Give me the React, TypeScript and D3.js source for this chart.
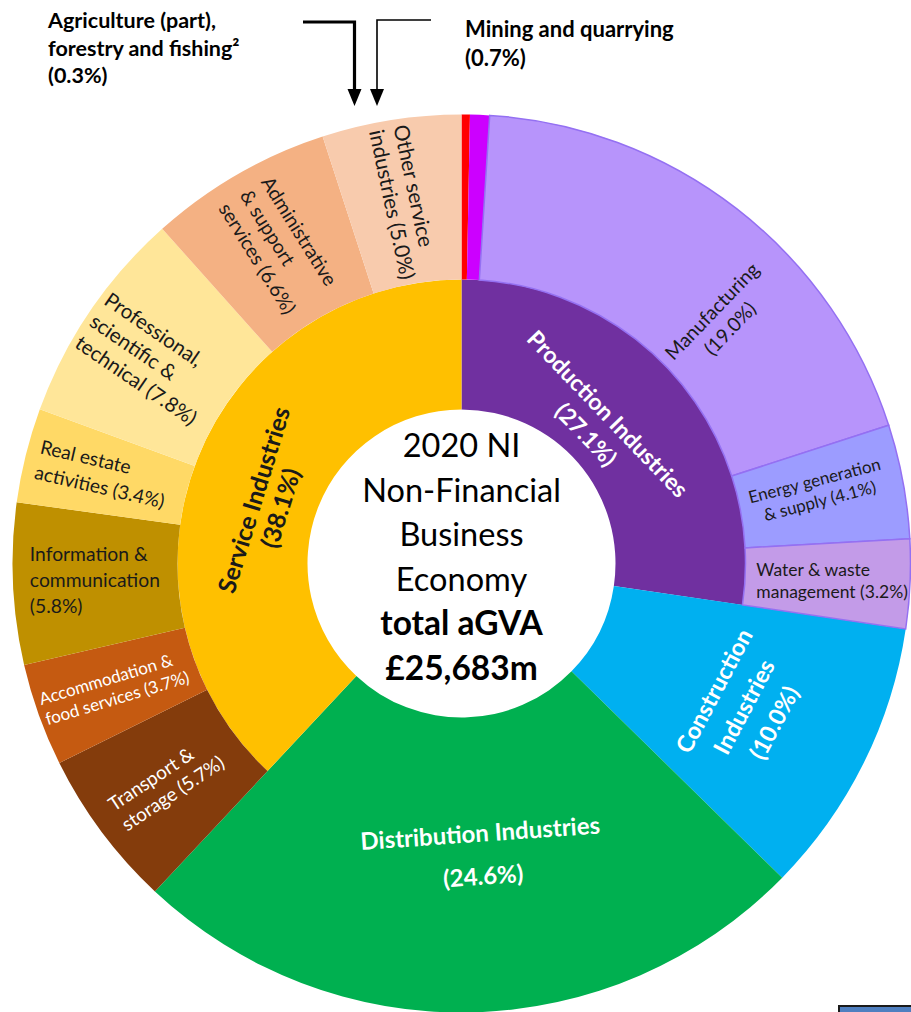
import React, { useEffect, useRef } from 'react';
import * as d3 from 'd3';

// inner ring: broad industry groups
const industries = ['Production Industries', 'Construction Industries', 'Distribution Industries', 'Service Industries'];
const industryShares = [27.1, 10.0, 24.6, 38.1];
const industryColors = ['#7030a0', '#00b0f0', '#00b050', '#ffc000'];

// outer ring: sectors inside each group
const sectors = [
  'Agriculture (part), forestry and fishing',
  'Mining and quarrying',
  'Manufacturing',
  'Energy generation & supply',
  'Water & waste management',
  'Transport & storage',
  'Accommodation & food services',
  'Information & communication',
  'Real estate activities',
  'Professional, scientific & technical',
  'Administrative & support services',
  'Other service industries',
];
const sectorParents = [
  'Production Industries', 'Production Industries', 'Production Industries', 'Production Industries', 'Production Industries',
  'Service Industries', 'Service Industries', 'Service Industries', 'Service Industries', 'Service Industries',
  'Service Industries', 'Service Industries',
];
const sectorShares = [0.3, 0.7, 19.0, 4.1, 3.2, 5.7, 3.7, 5.8, 3.4, 7.8, 6.6, 5.0];
const sectorColors = [
  '#ff0000', '#cc00ff', '#b794fb', '#9c9cff', '#c39be8',
  '#843c0c', '#c55a11', '#bf9000', '#ffd966', '#ffe699', '#f4b183', '#f8cbad',
];

// '#' gets replaced by the share
const labelLines: Record<string, string[]> = {
  'Production Industries': ['Production Industries', '(#)'],
  'Construction Industries': ['Construction', 'Industries', '(#)'],
  'Distribution Industries': ['Distribution Industries', '(#)'],
  'Service Industries': ['Service Industries', '(#)'],
  'Manufacturing': ['Manufacturing', '(#)'],
  'Energy generation & supply': ['Energy generation', '& supply (#)'],
  'Water & waste management': ['Water & waste', 'management (#)'],
  'Transport & storage': ['Transport &', 'storage (#)'],
  'Accommodation & food services': ['Accommodation &', 'food services (#)'],
  'Information & communication': ['Information &', 'communication', '(#)'],
  'Real estate activities': ['Real estate', 'activities (#)'],
  'Professional, scientific & technical': ['Professional,', 'scientific &', 'technical (#)'],
  'Administrative & support services': ['Administrative', '& support', 'services (#)'],
  'Other service industries': ['Other service', 'industries (#)'],
};

const centerLines = ['2020 NI', 'Non-Financial', 'Business', 'Economy'];
const centerBoldLines = ['total aGVA', '£25,683m'];

const agriNote = ['Agriculture (part),', 'forestry and fishing²', '(0.3%)'];
const miningNote = ['Mining and quarrying', '(0.7%)'];

type Orient = 'in' | 'out' | 'tan' | 'flat';
interface LabelStyle {
  r: number;
  dTheta?: number;
  dRot?: number;
  orient: Orient;
  size: number;
  weight?: number;
  color?: string;
  align?: 'start' | 'middle';
  lineH: number;
}

const labelStyle: Record<string, LabelStyle> = {
  'Production Industries': { r: 194, dTheta: -5, dRot: 2, orient: 'tan', size: 23, weight: 700, color: '#fff', lineH: 30 },
  'Construction Industries': { r: 317, dTheta: 0.5, dRot: 1, orient: 'tan', size: 23.5, weight: 700, color: '#fff', lineH: 34 },
  'Distribution Industries': { r: 292, dTheta: -2.7, orient: 'tan', size: 24, weight: 700, color: '#fff', lineH: 43 },
  'Service Industries': { r: 203, dTheta: -4.5, orient: 'tan', size: 24.5, weight: 700, lineH: 28 },
  'Manufacturing': { r: 356, dTheta: 9, dRot: -3, orient: 'out', size: 19.5, lineH: 25 },
  'Energy generation & supply': { r: 363, dTheta: -1, dRot: -3, orient: 'out', size: 17, lineH: 21 },
  'Water & waste management': { r: 371, orient: 'flat', size: 17.5, align: 'start', lineH: 22 },
  'Transport & storage': { r: 368, dRot: 3, orient: 'in', size: 19, color: '#fff', align: 'start', lineH: 24 },
  'Accommodation & food services': { r: 369, dRot: 3, orient: 'in', size: 17, color: '#fff', align: 'start', lineH: 21 },
  'Information & communication': { r: 367, orient: 'flat', size: 19.3, align: 'start', lineH: 26 },
  'Real estate activities': { r: 370, dRot: -1, orient: 'in', size: 19.2, align: 'start', lineH: 26 },
  'Professional, scientific & technical': { r: 372, dTheta: -0.8, dRot: 1, orient: 'in', size: 20.5, align: 'start', lineH: 26 },
  'Administrative & support services': { r: 367, dRot: -2, orient: 'in', size: 19.5, align: 'start', lineH: 25 },
  'Other service industries': { r: 366, dRot: -3, orient: 'in', size: 21, align: 'start', lineH: 25 },
};

const outlined = new Set(['Manufacturing', 'Energy generation & supply', 'Water & waste management']);

const FONT = "Lato, 'Open Sans', sans-serif";

interface Node {
  name: string;
  value?: number;
  children?: Node[];
}

const App: React.FC = () => {
  const svgRef = useRef<SVGSVGElement | null>(null);

  useEffect(() => {
    if (!svgRef.current) return;
    const svg = d3.select(svgRef.current);
    svg.selectAll('*').remove();

    const cx = 461.5;
    const cy = 563.5;
    const rHole = 154;
    const rMid = 284;
    const rOuter = 449;

    const tree: Node = {
      name: 'root',
      children: industries.map((name, i) => {
        const kids = sectors
          .map((s, j) => ({ name: s, value: sectorShares[j], parent: sectorParents[j] }))
          .filter(k => k.parent === name)
          .map(k => ({ name: k.name, value: k.value }));
        return kids.length ? { name, children: kids } : { name, value: industryShares[i] };
      }),
    };

    const colorOf = new Map<string, string>();
    industries.forEach((n, i) => colorOf.set(n, industryColors[i]));
    sectors.forEach((n, i) => colorOf.set(n, sectorColors[i]));

    const shareOf = new Map<string, number>();
    industries.forEach((n, i) => shareOf.set(n, industryShares[i]));
    sectors.forEach((n, i) => shareOf.set(n, sectorShares[i]));

    const root = d3.hierarchy<Node>(tree).sum(d => d.value ?? 0);
    const part = d3.partition<Node>().size([2 * Math.PI, 3])(root);
    const radius = d3.scaleLinear().domain([1, 2, 3]).range([rHole, rMid, rOuter]);

    type P = d3.HierarchyRectangularNode<Node>;
    const outerY = (d: P) => (d.depth === 1 && !d.children ? 3 : d.y1);

    const arc = d3.arc<P>()
      .startAngle(d => d.x0)
      .endAngle(d => d.x1)
      .innerRadius(d => radius(d.y0))
      .outerRadius(d => radius(outerY(d)));

    const nodes = part.descendants().filter(d => d.depth > 0);

    const g = svg.append('g').attr('transform', `translate(${cx},${cy})`);

    g.selectAll('path.slice')
      .data(nodes)
      .enter().append('path')
      .attr('class', 'slice')
      .attr('d', arc)
      .attr('fill', d => colorOf.get(d.data.name)!)
      .attr('stroke', d => (outlined.has(d.data.name) ? '#9470f2' : 'none'))
      .attr('stroke-width', 1.5);

    // slice labels
    nodes.forEach(d => {
      const st = labelStyle[d.data.name];
      const lines = labelLines[d.data.name];
      if (!st || !lines) return;
      const share = shareOf.get(d.data.name)!;
      const theta = (d.x0 + d.x1) / 2 + ((st.dTheta ?? 0) * Math.PI) / 180;
      const deg = (theta * 180) / Math.PI;
      let rot = 0;
      if (st.orient === 'in') rot = deg - 270;
      else if (st.orient === 'out') rot = deg - 90;
      else if (st.orient === 'tan') {
        rot = deg;
        if (rot > 90 && rot < 270) rot -= 180;
        else if (rot >= 270) rot -= 360;
      }
      rot += st.dRot ?? 0;
      const x = st.r * Math.sin(theta);
      const y = -st.r * Math.cos(theta);

      const lg = g.append('g').attr('transform', `translate(${x},${y}) rotate(${rot})`);
      const n = lines.length;
      const texts = lines.map((line, i) =>
        lg.append('text')
          .attr('y', (i - (n - 1) / 2) * st.lineH + st.size * 0.35)
          .attr('text-anchor', st.align === 'start' ? 'start' : 'middle')
          .attr('font-family', FONT)
          .attr('font-size', st.size)
          .attr('font-weight', st.weight ?? 400)
          .attr('fill', st.color ?? '#1a1a1a')
          .text(line.replace('#', `${share.toFixed(1)}%`))
      );
      if (st.align === 'start') {
        const w = d3.max(texts, t => (t.node() as SVGTextElement).getComputedTextLength()) ?? 0;
        texts.forEach(t => t.attr('x', -w / 2));
      }
    });

    // centre text
    const step = 44.6;
    [...centerLines, ...centerBoldLines].forEach((line, i) => {
      const bold = i >= centerLines.length;
      g.append('text')
        .attr('x', 0)
        .attr('y', -106.5 + i * step)
        .attr('text-anchor', 'middle')
        .attr('font-family', FONT)
        .attr('font-size', bold ? 33.5 : 32.5)
        .attr('font-weight', bold ? 700 : 400)
        .attr('fill', '#000')
        .text(line);
    });

    // notes above the chart
    agriNote.forEach((line, i) => {
      svg.append('text')
        .attr('x', 48)
        .attr('y', 28 + i * 27.5)
        .attr('font-family', FONT)
        .attr('font-size', 21.5)
        .attr('font-weight', 700)
        .text(line);
    });
    miningNote.forEach((line, i) => {
      svg.append('text')
        .attr('x', 465)
        .attr('y', 37 + i * 29)
        .attr('font-family', FONT)
        .attr('font-size', 22)
        .attr('font-weight', 700)
        .text(line);
    });

    // pointer arrows
    const arrowHead = (x: number, tip: number) =>
      `M${x - 7},${tip - 17} L${x + 7},${tip - 17} L${x},${tip} Z`;
    svg.append('path')
      .attr('d', 'M303,22 H354.5 V92')
      .attr('fill', 'none')
      .attr('stroke', '#000')
      .attr('stroke-width', 3.2);
    svg.append('path').attr('d', arrowHead(354.5, 106)).attr('fill', '#000');
    svg.append('path')
      .attr('d', 'M431,20 H377 V92')
      .attr('fill', 'none')
      .attr('stroke', '#000')
      .attr('stroke-width', 1.6);
    svg.append('path').attr('d', arrowHead(377, 106)).attr('fill', '#000');

    // cropped box in the corner
    svg.append('rect')
      .attr('x', 839)
      .attr('y', 1006)
      .attr('width', 80)
      .attr('height', 20)
      .attr('fill', '#4f7fc0')
      .attr('stroke', '#1a1a1a')
      .attr('stroke-width', 2);
  }, []);

  return (
    <div style={{ position: 'absolute', left: 0, top: 0 }}>
      <svg ref={svgRef} width={911} height={1012} style={{ display: 'block', background: '#fff' }} />
    </div>
  );
};

export default App;
